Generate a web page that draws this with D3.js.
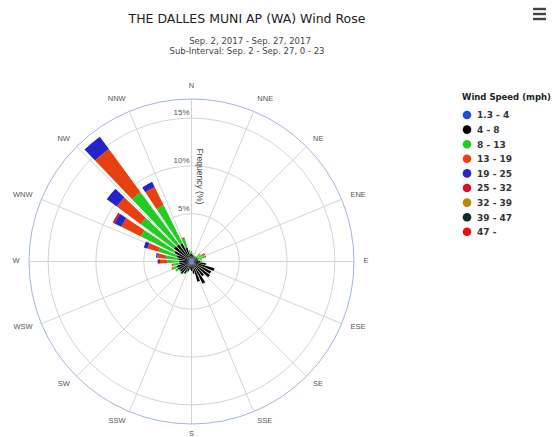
<!DOCTYPE html>
<html><head><meta charset="utf-8">
<script src="https://cdn.jsdelivr.net/npm/d3@7"></script>
<style>body{margin:0;background:#fff}svg{display:block}</style>
</head><body>
<svg id="c" width="554" height="437"></svg>
<script>
const dirs = [0,10,20,30,40,50,60,70,80,90,100,110,120,130,140,150,160,170,180,190,200,210,220,230,240,250,260,270,280,290,300,310,320,330,340,350];
const speedBins = ["1.3 - 4","4 - 8","8 - 13","13 - 19","19 - 25","25 - 32","32 - 39","39 - 47","47 -"];
const binColors = ["#1f4fd8","#000000","#22cc22","#e8400f","#2424c8","#d8102c","#b8860b","#0a2e2a","#e81010"];
const s1 = [0.3,0.3,0.3,0.3,0.3,0.3,0.3,0.3,0.3,0.3,0.3,0.3,0.3,0.3,0.3,0.3,0.3,0.3,0.3,0.3,0.3,0.3,0.3,0.3,0.3,0.3,0.3,0.3,0.3,0.3,0.3,0.3,0.3,0.3,0.3,0.3];
const s2 = [0.5,0.4,0.3,0.3,0.3,0.4,0.4,0.5,0.4,0.6,1.2,2.2,2.0,2.1,1.6,2.3,1.9,1.0,0.7,0.6,0.8,1.1,1.3,1.2,1.3,1.3,1.0,1.0,1.1,1.3,1.7,2.0,1.9,1.8,1.2,0.6];
const s3 = [0.3,0.2,0.1,0.1,0.1,0.4,0.6,0.7,0.4,0.2,0.1,0,0,0,0,0,0,0,0,0,0.1,0.1,0.1,0.1,0.3,0.5,0.6,1.2,1.3,2.0,3.9,4.3,6.8,4.5,1.0,0.3];
const s4 = [0,0,0,0,0,0.1,0.3,0.1,0,0,0,0,0,0,0,0,0,0,0,0,0,0,0,0,0,0.1,0.2,0.8,0.9,1.2,2.3,3.1,5.6,2.1,0.15,0];
const s5 = [0,0,0,0,0,0,0,0,0,0,0,0,0,0,0,0,0,0,0,0,0,0,0,0,0,0,0,0.1,0.15,0.4,0.8,1.3,1.6,0.6,0,0];
const s6 = [0,0,0,0,0,0,0,0,0,0,0,0,0,0,0,0,0,0,0,0,0,0,0,0,0,0,0,0.15,0,0,0.2,0,0,0,0,0];
const s7 = new Array(36).fill(0);
const s8 = new Array(36).fill(0);
const s9 = new Array(36).fill(0);
const compass = ["N","NNE","NE","ENE","E","ESE","SE","SSE","S","SSW","SW","WSW","W","WNW","NW","NNW"];
const yTicks = [5,10,15];
const yMax = 17;

const series = [s1,s2,s3,s4,s5,s6,s7,s8,s9];
const svg = d3.select("#c");
const cx = 191.5, cy = 261.5, R = 162.5;
const r = d3.scaleLinear().domain([0,yMax]).range([0,R]);
const ang = d3.scaleLinear().domain([0,360]).range([0,2*Math.PI]);
const g = svg.append("g").attr("transform",`translate(${cx},${cy})`);

// grid circles
g.selectAll("circle.grid").data(yTicks).join("circle")
  .attr("r",d=>r(d)).attr("fill","none").attr("stroke","#d4d4d4").attr("stroke-width",1);
// spokes
g.selectAll("line.spoke").data(compass).join("line")
  .attr("x1",0).attr("y1",0)
  .attr("x2",(d,i)=>R*Math.sin(ang(i*22.5)))
  .attr("y2",(d,i)=>-R*Math.cos(ang(i*22.5)))
  .attr("stroke","#d4d4d4").attr("stroke-width",1);

// stacked bars
const rows = dirs.map((d,i)=>{const o={dir:d}; series.forEach((s,k)=>o["k"+k]=s[i]); return o;});
const stack = d3.stack().keys(series.map((s,k)=>"k"+k));
const stacked = stack(rows);
const halfW = 3.7;
const arc = d3.arc();
stacked.forEach((layer,k)=>{
  g.append("g").selectAll("path").data(layer.filter(p=>p[1]-p[0]>0)).join("path")
   .attr("d",p=>arc({innerRadius:r(p[0]),outerRadius:r(p[1]),
        startAngle:ang(p.data.dir-halfW),endAngle:ang(p.data.dir+halfW)}))
   .attr("fill",binColors[k]);
});

// outer circle
g.append("circle").attr("r",R).attr("fill","none").attr("stroke","#a2b5dc").attr("stroke-width",1);

// compass labels
const sinA = i=>Math.sin(ang(i*22.5)), cosA = i=>Math.cos(ang(i*22.5));
svg.selectAll("text.cmp").data(compass).join("text")
  .attr("x",(d,i)=>cx+172*sinA(i))
  .attr("y",(d,i)=>cy-173*cosA(i)-1-(cosA(i)>0.9?2:0)+2.7)
  .attr("text-anchor",(d,i)=>sinA(i)>0.1?"start":(sinA(i)<-0.1?"end":"middle"))
  .attr("font-family","Liberation Sans, Arial, sans-serif").attr("font-size",7.5)
  .attr("fill","#555").text(d=>d);

// y tick labels
g.selectAll("text.yt").data(yTicks).join("text")
  .attr("x",-2).attr("y",d=>-r(d)-3)
  .attr("text-anchor","end")
  .attr("font-family","Liberation Sans, Arial, sans-serif").attr("font-size",8)
  .attr("fill","#555").text(d=>d+"%");
// y axis title
g.append("text").attr("transform",`translate(${5},${-r(8.9)}) rotate(90)`)
  .attr("text-anchor","middle")
  .attr("font-family","Liberation Sans, Arial, sans-serif").attr("font-size",8.5)
  .attr("fill","#444").text("Frequency (%)");

// titles
svg.append("text").attr("x",247).attr("y",23).attr("text-anchor","middle")
  .attr("font-family","DejaVu Sans, sans-serif").attr("font-size",12.5).attr("fill","#222")
  .text("THE DALLES MUNI AP (WA) Wind Rose");
svg.append("text").attr("x",250).attr("y",44).attr("text-anchor","middle")
  .attr("font-family","DejaVu Sans, sans-serif").attr("font-size",8.5).attr("fill","#444")
  .text("Sep. 2, 2017 - Sep. 27, 2017");
svg.append("text").attr("x",247).attr("y",54).attr("text-anchor","middle")
  .attr("font-family","DejaVu Sans, sans-serif").attr("font-size",8.5).attr("fill","#444")
  .text("Sub-Interval: Sep. 2 - Sep. 27, 0 - 23");

// legend
const lg = svg.append("g").attr("transform","translate(462,100)");
lg.append("text").attr("x",0).attr("y",0).attr("font-family","DejaVu Sans, sans-serif")
  .attr("font-size",8.5).attr("font-weight","bold").attr("fill","#222").text("Wind Speed (mph)");
const items = lg.selectAll("g.it").data(speedBins).join("g")
  .attr("transform",(d,i)=>`translate(0,${15+i*14.6})`);
items.append("circle").attr("cx",5).attr("cy",0).attr("r",4.3).attr("fill",(d,i)=>binColors[i]);
items.append("text").attr("x",15).attr("y",3.3).attr("font-family","DejaVu Sans, sans-serif")
  .attr("font-size",9).attr("font-weight","bold").attr("fill","#333").text(d=>d);

// menu icon
const mi = svg.append("g").attr("transform","translate(533,0)");
[9,14,19].forEach(y=>mi.append("line").attr("x1",0).attr("x2",13).attr("y1",y).attr("y2",y)
  .attr("stroke","#444").attr("stroke-width",2.4));
</script>
</body></html>
